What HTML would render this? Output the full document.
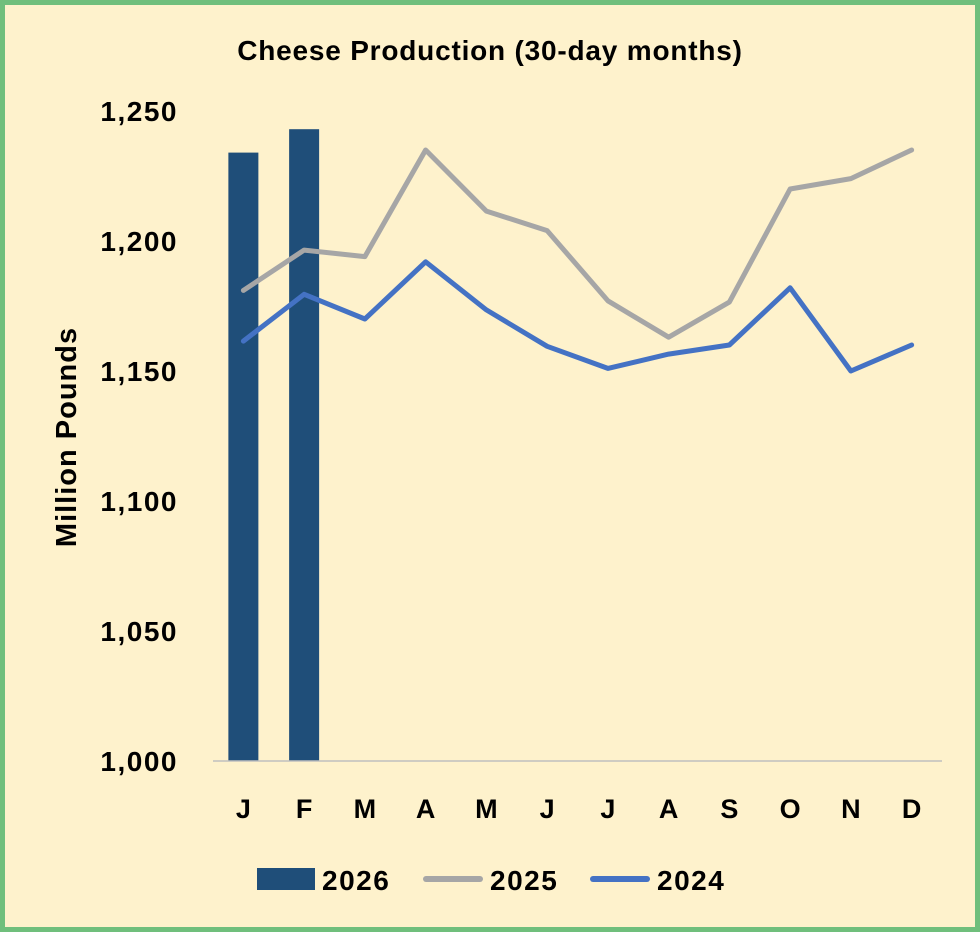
<!DOCTYPE html>
<html><head><meta charset="utf-8"><style>
html,body{margin:0;padding:0;}
body{width:980px;height:932px;overflow:hidden;background:#fef2cc;}
svg{display:block;font-family:"Liberation Sans",Arial,sans-serif;font-weight:bold;}
</style></head><body>
<svg id="chart" width="980" height="932" viewBox="0 0 980 932">
<rect x="2.5" y="2.5" width="975" height="927" fill="#fef2cc" stroke="#70bf7c" stroke-width="5"/>
<text x="490" y="60" text-anchor="middle" font-size="28" letter-spacing="0.8" fill="#000">Cheese Production (30-day months)</text>
<text transform="translate(76,437) rotate(-90)" text-anchor="middle" font-size="29" letter-spacing="1" fill="#000">Million Pounds</text>
<g id="yticks"></g><g id="xticks"></g><g id="bars"></g><g id="lines"></g>
<line x1="213" y1="761" x2="942" y2="761" stroke="#bfbfbf" stroke-width="1.5"/>
<g>
<rect x="257" y="868" width="58" height="22" fill="#1f4e79"/>
<text x="322" y="890" font-size="28" letter-spacing="1.5">2026</text>
<line x1="426" y1="879" x2="480" y2="879" stroke="#a6a6a6" stroke-width="6" stroke-linecap="round"/>
<text x="490" y="890" font-size="28" letter-spacing="1.5">2025</text>
<line x1="593" y1="879" x2="647" y2="879" stroke="#4472c4" stroke-width="6" stroke-linecap="round"/>
<text x="657" y="890" font-size="28" letter-spacing="1.5">2024</text>
</g>
</svg>
<script>
const categories=["J","F","M","A","M","J","J","A","S","O","N","D"];
const values2026=[1234,1243];
const values2025=[1181,1196.5,1194,1235,1211.5,1204,1177,1163,1176.5,1220,1224,1235];
const values2024=[1161.5,1179.5,1170,1192,1173.5,1159.5,1151,1156.5,1160,1182,1150,1160];
const yTicks=[1000,1050,1100,1150,1200,1250];
const yTickLabels=["1,000","1,050","1,100","1,150","1,200","1,250"];
const NS="http://www.w3.org/2000/svg";
const x0=213,x1=942,yMin=1000,yMax=1250,py0=761,py1=111;
const band=(x1-x0)/categories.length;
function xs(i){return x0+band*(i+0.5);}
function ys(v){return py0-(v-yMin)/(yMax-yMin)*(py0-py1);}
function mk(t,a){const e=document.createElementNS(NS,t);for(const k in a)e.setAttribute(k,a[k]);return e;}
const yt=document.getElementById('yticks');
yTicks.forEach((v,i)=>{const t=mk('text',{x:178,y:ys(v)+10,'text-anchor':'end','font-size':28,'letter-spacing':1.5});


t.textContent=yTickLabels[i];yt.appendChild(t);});
const xt=document.getElementById('xticks');
categories.forEach((c,i)=>{const t=mk('text',{x:xs(i),y:818,'text-anchor':'middle','font-size':27});


t.textContent=c;xt.appendChild(t);});
const bg=document.getElementById('bars');
values2026.forEach((v,i)=>{const r=mk('rect',{x:xs(i)-15,y:ys(v),width:30,height:ys(yMin)-ys(v),fill:'#1f4e79'});


bg.appendChild(r);});
const lg=document.getElementById('lines');
[[values2025,'#a6a6a6','line-2025'],[values2024,'#4472c4','line-2024']].forEach(([d,c,n])=>{
const p=mk('polyline',{points:d.map((v,i)=>xs(i)+','+ys(v)).join(' '),fill:'none',stroke:c,'stroke-width':5,'stroke-linejoin':'round','stroke-linecap':'round'});


lg.appendChild(p);});
</script>
</body></html>
